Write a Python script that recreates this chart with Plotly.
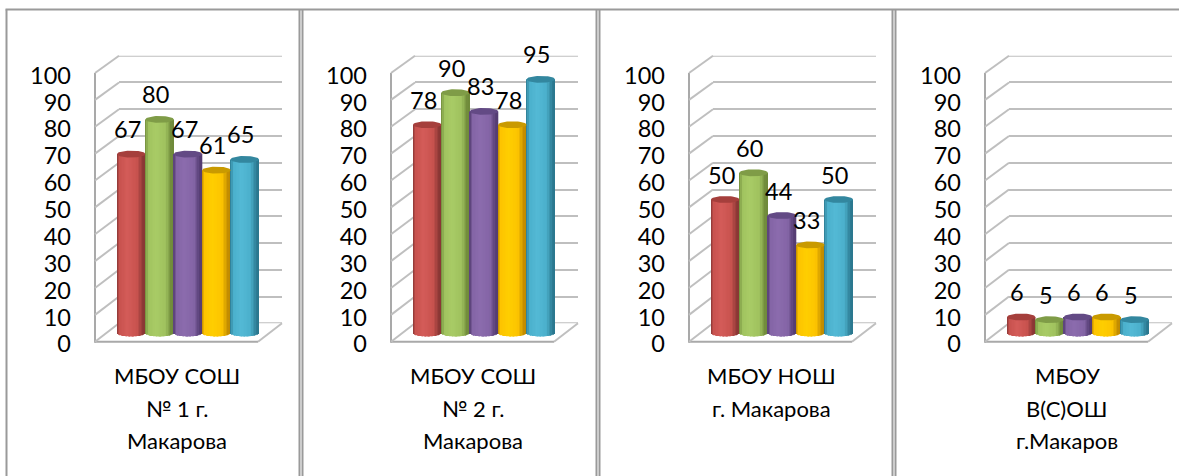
import plotly.graph_objects as go
import numpy as np

W, H = 1179, 476

# ---- data ----
panel_values = [
    [67, 80, 67, 61, 65],
    [78, 90, 83, 78, 95],
    [50, 60, 44, 33, 50],
    [6, 5, 6, 6, 5],
]
panel_labels = [
    ["МБОУ СОШ", "№ 1 г.", "Макарова"],
    ["МБОУ СОШ", "№ 2 г.", "Макарова"],
    ["МБОУ НОШ", "г. Макарова"],
    ["МБОУ", "В(С)ОШ", "г.Макаров"],
]
series_index = [0, 1, 2, 3, 4]
tick_values = list(range(0, 101, 10))
panel_dx = [0, 296, 594, 890]

# colours: edge, body, highlight, cap
series_colors = [
    ("#8a3735", "#c9534f", "#d45c59", "#a53f3c"),
    ("#6f8a3a", "#a0c25f", "#a9cc66", "#7f9c47"),
    ("#553d73", "#8465a6", "#8c6cae", "#634a85"),
    ("#c08a00", "#fdc400", "#ffcf00", "#c99a00"),
    ("#2b788f", "#4bb0cc", "#54bad6", "#33879f"),
]
GRID = "#bfbfbf"
AXIS = "#a9a9a9"
BORDER = "#9a9a9a"
TEXT = "#000000"
FONT = "Lato"
FS = 22
FS_NUM = 23.5
STRIPS = 20


def px(x):
    return x / W


def py(y):
    return 1 - y / H


def rgb(h):
    return np.array([int(h[k:k + 2], 16) for k in (1, 3, 5)], float)


def shade(u, edge, body, hi):
    """Cylinder shading across the width; u runs from 0 (left) to 1 (right)."""
    stops = [0, 0.12, 0.38, 0.72, 0.94, 1]
    cols = [edge, body, hi, body, edge, edge]
    vals = [np.interp(u, stops, [rgb(c)[k] for c in cols]) for k in range(3)]
    return "rgb(%d,%d,%d)" % tuple(vals)


def sfx(n):
    return "" if n == 1 else str(n)


fig = go.Figure()
layout = {}
shapes = []
annotations = []
cap_h = 1.3
u_strip = (np.arange(STRIPS) + 0.5) / STRIPS
strip_w = 1 / STRIPS

for p, (vals, labels, dx) in enumerate(zip(panel_values, panel_labels, panel_dx)):
    a = 3 * p + 1  # back wall, tick labels, cylinders
    b = a + 1
    c = a + 2

    # back wall
    layout[f"xaxis{sfx(a)}"] = dict(domain=[px(119 + dx), px(282 + dx)], range=[0, 1], visible=False,
                                    anchor=f"y{sfx(a)}", automargin=False)
    layout[f"yaxis{sfx(a)}"] = dict(domain=[py(323.3), py(55.7)], range=[0, 100], tickvals=tick_values,
                                    showticklabels=False, showgrid=True, gridcolor=GRID, gridwidth=2,
                                    zeroline=False, showline=False, ticks="", anchor=f"x{sfx(a)}", automargin=False)
    for edge_val in (0, 100):
        fig.add_trace(go.Scatter(x=[0, 1], y=[edge_val, edge_val], mode="lines", line=dict(color=GRID, width=2),
                                 xaxis=f"x{sfx(a)}", yaxis=f"y{sfx(a)}", hoverinfo="skip", showlegend=False,
                                 cliponaxis=False))

    # tick-label axis (sits 2.5 px under the drawn front axis, as the labels do in the reference)
    layout[f"xaxis{sfx(b)}"] = dict(domain=[px(95 + dx), px(258 + dx)], range=[0, 1], visible=False,
                                    anchor=f"y{sfx(b)}", automargin=False)
    layout[f"yaxis{sfx(b)}"] = dict(domain=[py(344.2), py(75.5)], range=[0, 100], tickvals=tick_values, ticks="",
                                    showgrid=False, zeroline=False, showline=False,
                                    ticklabelstandoff=23, tickfont=dict(family=FONT, size=FS_NUM, color=TEXT),
                                    anchor=f"x{sfx(b)}", automargin=False)
    fig.add_trace(go.Scatter(x=[0, 1], y=[None, None], xaxis=f"x{sfx(b)}", yaxis=f"y{sfx(b)}", showlegend=False,
                             hoverinfo="skip"))

    # front edges of the walls and floor
    shapes.append(dict(type="line", xref="paper", yref="paper", layer="below", x0=px(95 + dx), x1=px(95 + dx),
                       y0=py(342.7), y1=py(73), line=dict(color=AXIS, width=2)))
    shapes.append(dict(type="line", xref="paper", yref="paper", layer="below", x0=px(95 + dx), x1=px(258 + dx),
                       y0=py(341.7), y1=py(341.7), line=dict(color=AXIS, width=2)))

    # diagonals (wall to front axis, floor edge)
    for v in tick_values:
        f = v / 100
        shapes.append(dict(type="line", xref="paper", yref="paper", layer="below",
                           x0=px(95 + dx), y0=py(341.7 + f * (73 - 341.7)),
                           x1=px(119 + dx), y1=py(323.3 + f * (55.7 - 323.3)),
                           line=dict(color=GRID, width=2)))
    shapes.append(dict(type="line", xref="paper", yref="paper", layer="below",
                       x0=px(258 + dx), y0=py(341.7), x1=px(282 + dx), y1=py(323.3),
                       line=dict(color=GRID, width=2)))

    # cylinders: value 0 sits at pixel 333, value 100 at pixel 66
    y_lo, y_hi = -2.0, 105.0
    scale = 2.67
    layout[f"xaxis{sfx(c)}"] = dict(domain=[px(117 + dx), px(259 + dx)], range=[-0.5, 4.5], visible=False,
                                    anchor=f"y{sfx(c)}", automargin=False)
    layout[f"yaxis{sfx(c)}"] = dict(domain=[py(333 - y_lo * scale), py(333 - y_hi * scale)], range=[y_lo, y_hi],
                                    visible=False, anchor=f"x{sfx(c)}", automargin=False)
    for i, v in zip(series_index, vals):
        edge, body, hi, cap = series_colors[i]
        bulge = cap_h * np.sqrt(np.clip(1 - (2 * u_strip - 1) ** 2, 0, 1))
        fig.add_trace(go.Bar(x=i - 0.5 + u_strip, y=v + bulge, base=-bulge, width=strip_w * 1.12,
                             marker=dict(color=[shade(u, edge, body, hi) for u in u_strip], line=dict(width=0)),
                             xaxis=f"x{sfx(c)}", yaxis=f"y{sfx(c)}", showlegend=False, hoverinfo="skip"))
        th = np.linspace(0, 2 * np.pi, 49)
        fig.add_trace(go.Scatter(x=i + 0.5 * np.cos(th), y=v + cap_h * np.sin(th), mode="lines", fill="toself",
                                 line=dict(width=0), fillcolor=cap,
                                 xaxis=f"x{sfx(c)}", yaxis=f"y{sfx(c)}", showlegend=False, hoverinfo="skip"))
        annotations.append(dict(x=i, y=v, xref=f"x{sfx(c)}", yref=f"y{sfx(c)}", text=str(v), showarrow=False,
                                xshift=-4, yshift=25, xanchor="center", yanchor="middle",
                                font=dict(family=FONT, size=FS_NUM, color=TEXT)))

    # category labels, one line each with Excel's wide line spacing
    for j, line in enumerate(labels):
        annotations.append(dict(x=2, xref=f"x{sfx(c)}", y=py(375.5 + j * 32.5), yref="paper", text=line, showarrow=False,
                                xshift=-11, xanchor="center", yanchor="middle",
                                font=dict(family=FONT, size=FS, color=TEXT)))

# panel borders
for x in [6.5, 299.5, 302.5, 596.5, 599.5, 892.5, 895.5]:
    shapes.append(dict(type="line", xref="paper", yref="paper", layer="above", x0=px(x), x1=px(x), y0=0, y1=py(9.5),
                       line=dict(color=BORDER, width=2)))
shapes.append(dict(type="line", xref="paper", yref="paper", layer="above", x0=px(5.5), x1=1, y0=py(9.5), y1=py(9.5),
                   line=dict(color=BORDER, width=2)))

fig.update_layout(width=W, height=H, margin=dict(l=0, r=0, t=0, b=0), paper_bgcolor="white",
                  plot_bgcolor="rgba(0,0,0,0)", barmode="overlay", template="none",
                  shapes=shapes, annotations=annotations, showlegend=False, **layout)
fig.write_html("out.html", config={"displayModeBar": False}, post_script="document.body.style.margin='0';")
